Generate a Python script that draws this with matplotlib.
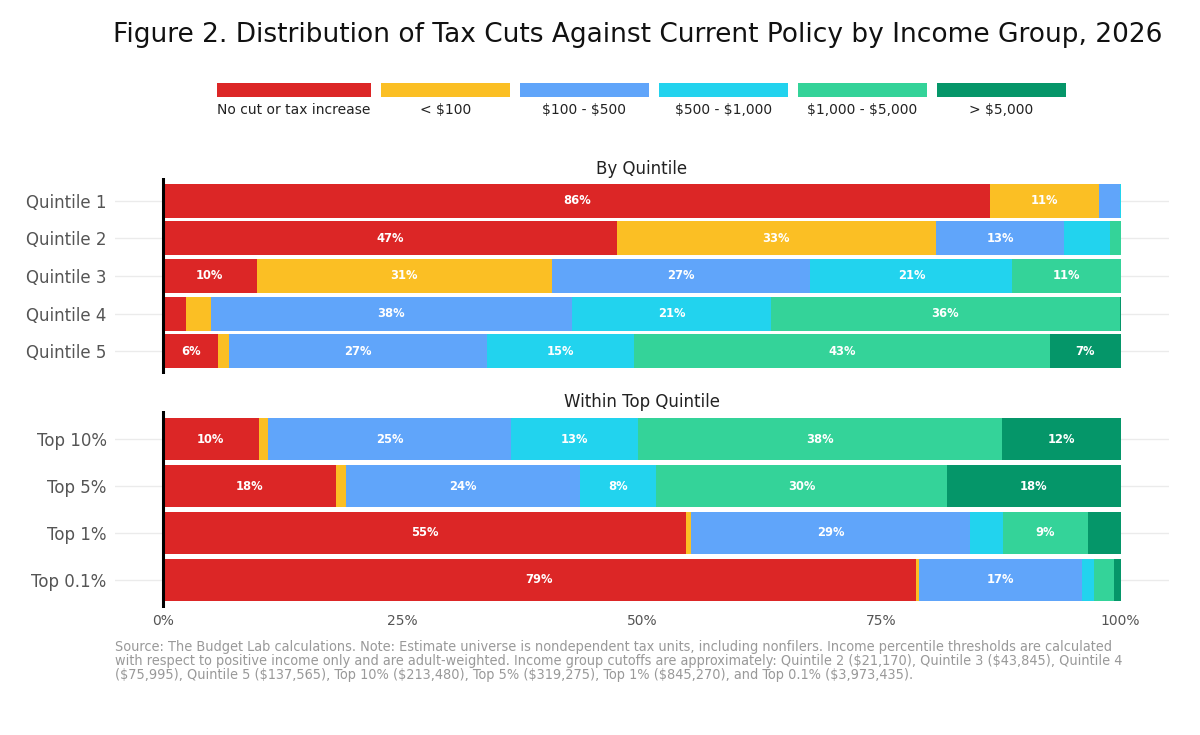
import numpy as np
import matplotlib.pyplot as plt
from matplotlib.patches import Rectangle

plt.rcParams['text.parse_math'] = False

# Categorias y series (porcentaje de unidades fiscales)
categories = ['No cut or tax increase', '< $100', '$100 - $500',
              '$500 - $1,000', '$1,000 - $5,000', '> $5,000']
colors = ['#DC2626', '#FBBF24', '#60A5FA', '#22D3EE', '#34D399', '#059669']

quintile_groups = ['Quintile 1', 'Quintile 2', 'Quintile 3', 'Quintile 4', 'Quintile 5']
no_cut_q = [86.4, 47.4, 9.8, 2.4, 5.8]
under_100_q = [11.3, 33.3, 30.8, 2.6, 1.1]
r100_500_q = [2.2, 13.4, 27.0, 37.7, 26.9]
r500_1000_q = [0.1, 4.8, 21.1, 20.8, 15.4]
r1000_5000_q = [0.0, 1.1, 11.3, 36.4, 43.4]
over_5000_q = [0.0, 0.0, 0.0, 0.1, 7.4]

top_groups = ['Top 10%', 'Top 5%', 'Top 1%', 'Top 0.1%']
no_cut_t = [10.0, 18.1, 54.6, 78.6]
under_100_t = [1.0, 1.0, 0.5, 0.3]
r100_500_t = [25.4, 24.4, 29.2, 17.1]
r500_1000_t = [13.2, 8.0, 3.4, 1.2]
r1000_5000_t = [38.0, 30.4, 8.9, 2.1]
over_5000_t = [12.4, 18.1, 3.4, 0.7]

x_ticks = [0, 25, 50, 75, 100]
x_tick_labels = ['0%', '25%', '50%', '75%', '100%']

title = 'Figure 2. Distribution of Tax Cuts Against Current Policy by Income Group, 2026'
note = ('Source: The Budget Lab calculations. Note: Estimate universe is nondependent tax units, including nonfilers. '
        'Income percentile thresholds are calculated\n'
        'with respect to positive income only and are adult-weighted. Income group cutoffs are approximately: '
        'Quintile 2 ($21,170), Quintile 3 ($43,845), Quintile 4\n'
        '($75,995), Quintile 5 ($137,565), Top 10% ($213,480), Top 5% ($319,275), Top 1% ($845,270), '
        'and Top 0.1% ($3,973,435).')


def draw_panel(ax, groups, series, panel_title):
    y = np.arange(len(groups))
    left = np.zeros(len(groups))
    for vals, col in zip(series, colors):
        vals = np.array(vals)
        ax.barh(y, vals, left=left, height=0.9, color=col, edgecolor='none', zorder=2)
        for yi, l, v in zip(y, left, vals):
            if v >= 5:
                ax.text(l + v / 2, yi, f'{v:.0f}%', ha='center', va='center',
                        color='white', fontsize=8.3, fontweight='bold', zorder=3)
        left += vals
    ax.set_xlim(-5, 105)
    ax.set_ylim(len(groups) - 0.4, -0.6)
    ax.set_yticks(y)
    ax.set_yticklabels(groups, fontsize=12, color='#555555')
    for yi in y:
        ax.axhline(yi, color='#EBEBEB', linewidth=1, zorder=0)
    ax.axvline(0, color='black', linewidth=2.2, zorder=4)
    ax.tick_params(axis='y', length=0, pad=6)
    for s in ax.spines.values():
        s.set_visible(False)
    ax.text(50, -0.6, panel_title, ha='center', va='bottom', fontsize=12, color='#222222')


fig = plt.figure(figsize=(12, 7.35), dpi=100)

ax1 = fig.add_axes([0.0958, 0.4912, 0.878, 0.2667])
draw_panel(ax1, quintile_groups,
           [no_cut_q, under_100_q, r100_500_q, r500_1000_q, r1000_5000_q, over_5000_q],
           'By Quintile')
ax1.set_xticks([])

ax2 = fig.add_axes([0.0958, 0.1728, 0.878, 0.268])
draw_panel(ax2, top_groups,
           [no_cut_t, under_100_t, r100_500_t, r500_1000_t, r1000_5000_t, over_5000_t],
           'Within Top Quintile')
ax2.set_xticks(x_ticks)
ax2.set_xticklabels(x_tick_labels, fontsize=10, color='#555555')
ax2.tick_params(axis='x', length=0, pad=4)

# Leyenda manual (rectangulos arriba, texto debajo)
lax = fig.add_axes([0, 0, 1, 1])
lax.set_xlim(0, 1200)
lax.set_ylim(735, 0)
lax.axis('off')
x0 = 217
for i, (lab, col) in enumerate(zip(categories, colors)):
    w = 154 if i == 0 else 129
    lax.add_patch(Rectangle((x0, 83), w, 14, facecolor=col, edgecolor='none'))
    lax.text(x0 + w / 2, 110, lab, ha='center', va='center', fontsize=10, color='#222222')
    x0 += w + 10

fig.text(0.531, 0.952, title, ha='center', va='center', fontsize=19, color='#111111')
fig.text(0.0958, 0.129, note, ha='left', va='top', fontsize=10.4, color='#999999',
         fontstretch='condensed', linespacing=0.98)

plt.savefig('out.png', dpi=100)
